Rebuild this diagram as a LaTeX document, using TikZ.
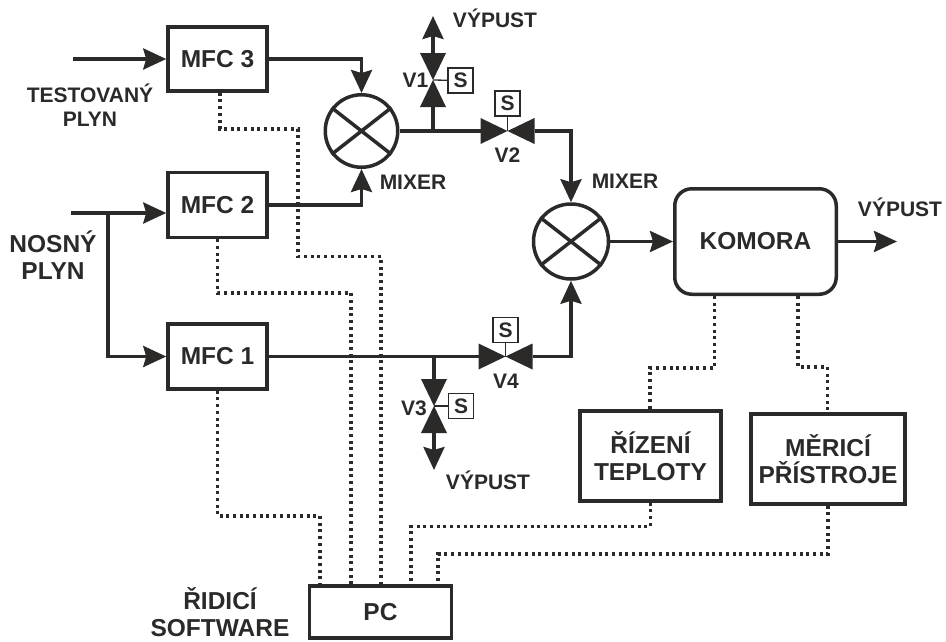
\documentclass[tikz,border=0pt]{standalone}
\usepackage{fontspec}
\setmainfont{Liberation Sans}
\usepackage{tikz}
\usetikzlibrary{shapes,arrows.meta}
\definecolor{ink}{HTML}{2B2A29}
\tikzset{
  boxfont/.style={font=\fontsize{24.5}{27}\selectfont\bfseries, text=ink, align=center},
  labelfont/.style={font=\fontsize{21}{24}\selectfont\bfseries, text=ink, align=center},
  flowline/.style={draw=ink, line width=3.5pt},
  flowarrow/.style={flowline, -{Stealth[length=23pt,width=21pt,inset=3pt]}},
  busline/.style={draw=ink, line width=3.3pt, dash pattern=on 3pt off 3.7pt},
  thinline/.style={draw=ink, line width=1.3pt}
}
\newcommand{\gasbox}[5] {\node at (#1) (#2) [rectangle, flowline, minimum width=#3pt, minimum height=#4pt, inner sep=0pt, boxfont] {#5};}
\newcommand{\gaschamber}[5] {\node at (#1) (#2) [rectangle, rounded corners=17pt, flowline, minimum width=#3pt, minimum height=#4pt, inner sep=0pt, boxfont] {#5};}
\newcommand{\gasmixer}[3] {\node at (#1) (#2) [circle, flowline, minimum size=#3pt, inner sep=0pt] {};
  \draw [flowline] (#2.142) -- (#2.322);
  \draw [flowline] (#2.38) -- (#2.218);}
\newcommand{\gasvalve}[3] {\begin{scope}[shift={(#1)}, rotate=#3]
  \coordinate (#2) at (0,0);
  \coordinate (#2a) at (-27,0);
  \coordinate (#2b) at (27,0);
  \fill [ink] (-27,-13) -- (0,0) -- (-27,13) -- cycle;
  \fill [ink] (27,-13) -- (0,0) -- (27,13) -- cycle;
  \end{scope}}
\newcommand{\gascoil}[3] {\node at (#1) (#2) [rectangle, draw=ink, line width=1.5pt, minimum size=25pt, inner sep=0pt, font=\fontsize{21}{24}\selectfont\bfseries, text=ink] {S};
  \draw [thinline] (#3) -- (#2);}
\newcommand{\gastext}[3] {\node at (#1) (#2) [labelfont] {#3};}
\newcommand{\gasbigtext}[3] {\node at (#1) (#2) [boxfont] {#3};}
\newcommand{\gasarrow}[2] {\draw [flowarrow] (#1) -- (#2);}
\newcommand{\gasarrowhv}[2] {\draw [flowarrow] (#1) -| (#2);}

\begin{document}
\begin{tikzpicture}[x=1pt, y=-1pt]
\useasboundingbox (0,0) rectangle (946,641);

\gasbox {217.5,59}{MFC3}{99}{64}{MFC 3}
\gasbox {217.5,205}{MFC2}{99}{65}{MFC 2}
\gasbox {217.5,356.5}{MFC1}{99}{65}{MFC 1}
\gasbox {380.5,612}{PC}{142}{52}{PC}
\gaschamber {755.5,241.5}{komora}{161.5}{105.5}{KOMORA}
\gasbox {650.5,456}{teplota}{141}{90}{ŘÍZENÍ\\TEPLOTY}
\gasbox {828,459}{pristroje}{154}{90}{MĚRICÍ\\PŘÍSTROJE}
\gasmixer {361.5,131}{mixA}{72.5}
\gasmixer {571,241.5}{mixB}{75}

\gasvalve {433,80}{V1}{-90}
\gasvalve {507.5,131}{V2}{0}
\gasvalve {434,406}{V3}{-90}
\gasvalve {505.5,356.5}{V4}{0}
\gascoil {460.5,80.5}{coilA}{V1}
\gascoil {507.5,103.5}{coilB}{V2}
\gascoil {461,406}{coilC}{V3}
\gascoil {505.5,330}{coilD}{V4}

\coordinate (inA) at (73,59);
\coordinate (inB) at (71,213);
\coordinate (teeB) at (108,213);
\coordinate (ventA) at (433,16);
\coordinate (ventC) at (434,470);
\coordinate (ventK) at (897,241.5);

\gasarrow {inA}{MFC3}
\draw [flowarrow] (inB) -- (inB -| MFC2.west);
\draw [flowarrow] (teeB) |- (MFC1);
\gasarrowhv {MFC3}{mixA}
\gasarrowhv {MFC2}{mixA}
\draw [flowline] (mixA) -- (V2a);
\draw [flowline] (V1b) -- (V1b |- mixA);
\gasarrow {V1a}{ventA}
\gasarrowhv {V2b}{mixB}
\draw [flowline] (MFC1) -- (V4a);
\draw [flowline] (V3a) -- (V3a |- MFC1);
\gasarrow {V3b}{ventC}
\gasarrowhv {V4b}{mixB}
\gasarrow {mixB}{komora}
\gasarrow {komora}{ventK}

\coordinate (bus3a) at (298,129);
\coordinate (bus3b) at (381,256.5);
\coordinate (bus2) at (351,293);
\coordinate (bus1) at (320,516);
\coordinate (bus4) at (411,526.5);
\coordinate (bus5) at (438,554);
\coordinate (busT) at (650,368);
\coordinate (busM) at (827.5,367);

\draw [busline] (MFC3.-86) |- (bus3a) |- (bus3b) -- (bus3b |- PC.north);
\draw [busline] (MFC2.south) |- (bus2) -- (bus2 |- PC.north);
\draw [busline] (MFC1.south) |- (bus1) -- (bus1 |- PC.north);
\draw [busline] (teplota.south) |- (bus4) -- (bus4 |- PC.north);
\draw [busline] (pristroje.south) |- (bus5) -- (bus5 |- PC.north);
\draw [busline] (komora.-127.5) |- (busT) -- (busT |- teplota.north);
\draw [busline] (komora.-52.5) |- (busM) -- (busM |- pristroje.north);

\gastext {90,105}{testText}{TESTOVANÝ\\PLYN}
\gasbigtext {53,255}{nosnyText}{NOSNÝ\\PLYN}
\gasbigtext {220,612.5}{softText}{ŘIDICÍ\\SOFTWARE}
\gastext {495,18}{ventAText}{VÝPUST}
\gastext {488,480}{ventCText}{VÝPUST}
\gastext {900,207}{ventKText}{VÝPUST}
\gastext {413,182}{mixAText}{MIXER}
\gastext {625,181}{mixBText}{MIXER}
\gastext {415.5,80}{V1Text}{V1}
\gastext {507.5,155}{V2Text}{V2}
\gastext {414,408}{V3Text}{V3}
\gastext {506,381}{V4Text}{V4}

\end{tikzpicture}
\end{document}
